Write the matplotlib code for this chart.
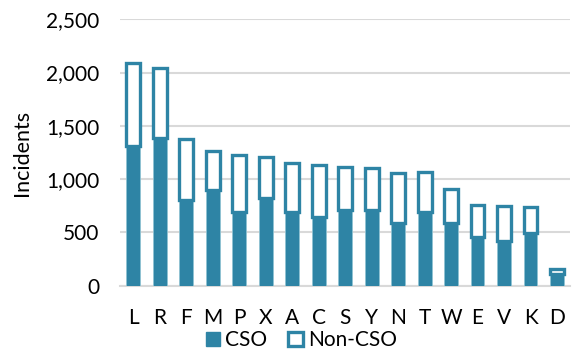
import matplotlib.pyplot as plt
from matplotlib.patches import Patch

# incident counts per unit, split into CSO / Non-CSO
units = ['L', 'R', 'F', 'M', 'P', 'X', 'A', 'C', 'S', 'Y', 'N', 'T', 'W', 'E', 'V', 'K', 'D']
totals = [2090, 2040, 1380, 1260, 1225, 1205, 1155, 1135, 1115, 1100, 1055, 1070, 905, 760, 750, 735, 160]
cso = [1310, 1390, 800, 895, 690, 820, 690, 645, 715, 715, 585, 690, 585, 455, 415, 495, 110]
non_cso = [t - c for t, c in zip(totals, cso)]

teal = '#2E84A5'
plt.rcParams['font.family'] = ['Lato', 'DejaVu Sans']

fig = plt.figure(figsize=(5.72, 3.51), dpi=100)
ax = fig.add_axes([0.21, 0.186, 0.787, 0.759])

x = range(len(units))
ax.bar(x, cso, width=0.52, color=teal, edgecolor='#8fc3d3', linewidth=0.6, zorder=3)
ax.bar(x, non_cso, bottom=cso, width=0.52, color='white', edgecolor=teal, linewidth=2.4, zorder=3)

ax.set_xlim(-0.5, len(units) - 0.5)
ax.set_ylim(0, 2500)
ax.set_yticks([0, 500, 1000, 1500, 2000, 2500])
ax.set_yticklabels(['0', '500', '1,000', '1,500', '2,000', '2,500'])
ax.set_xticks(list(x))
ax.set_xticklabels(units)
ax.tick_params(axis='both', length=0, labelsize=15)
ax.tick_params(axis='x', pad=16)
ax.tick_params(axis='y', pad=15)
ax.grid(axis='y', color='#d9d9d9', linewidth=1.5, zorder=0)
for side in ['top', 'right', 'left']:
    ax.spines[side].set_visible(False)
ax.spines['bottom'].set_color('#d9d9d9')
ax.spines['bottom'].set_linewidth(1.5)

fig.text(22.5 / 572, 0.565, 'Incidents', rotation=90, va='center', ha='center', fontsize=15.5)

handles = [Patch(facecolor=teal, edgecolor=teal, label='CSO'),
           Patch(facecolor='white', edgecolor=teal, linewidth=2.4, label='Non-CSO')]
fig.legend(handles=handles, loc='center', bbox_to_anchor=(0.527, 0.031), ncol=2, frameon=False,
           fontsize=15, handlelength=0.7, handleheight=0.7, handletextpad=0.25, columnspacing=1.0,
           borderpad=0)

plt.savefig('out.png', dpi=100)
